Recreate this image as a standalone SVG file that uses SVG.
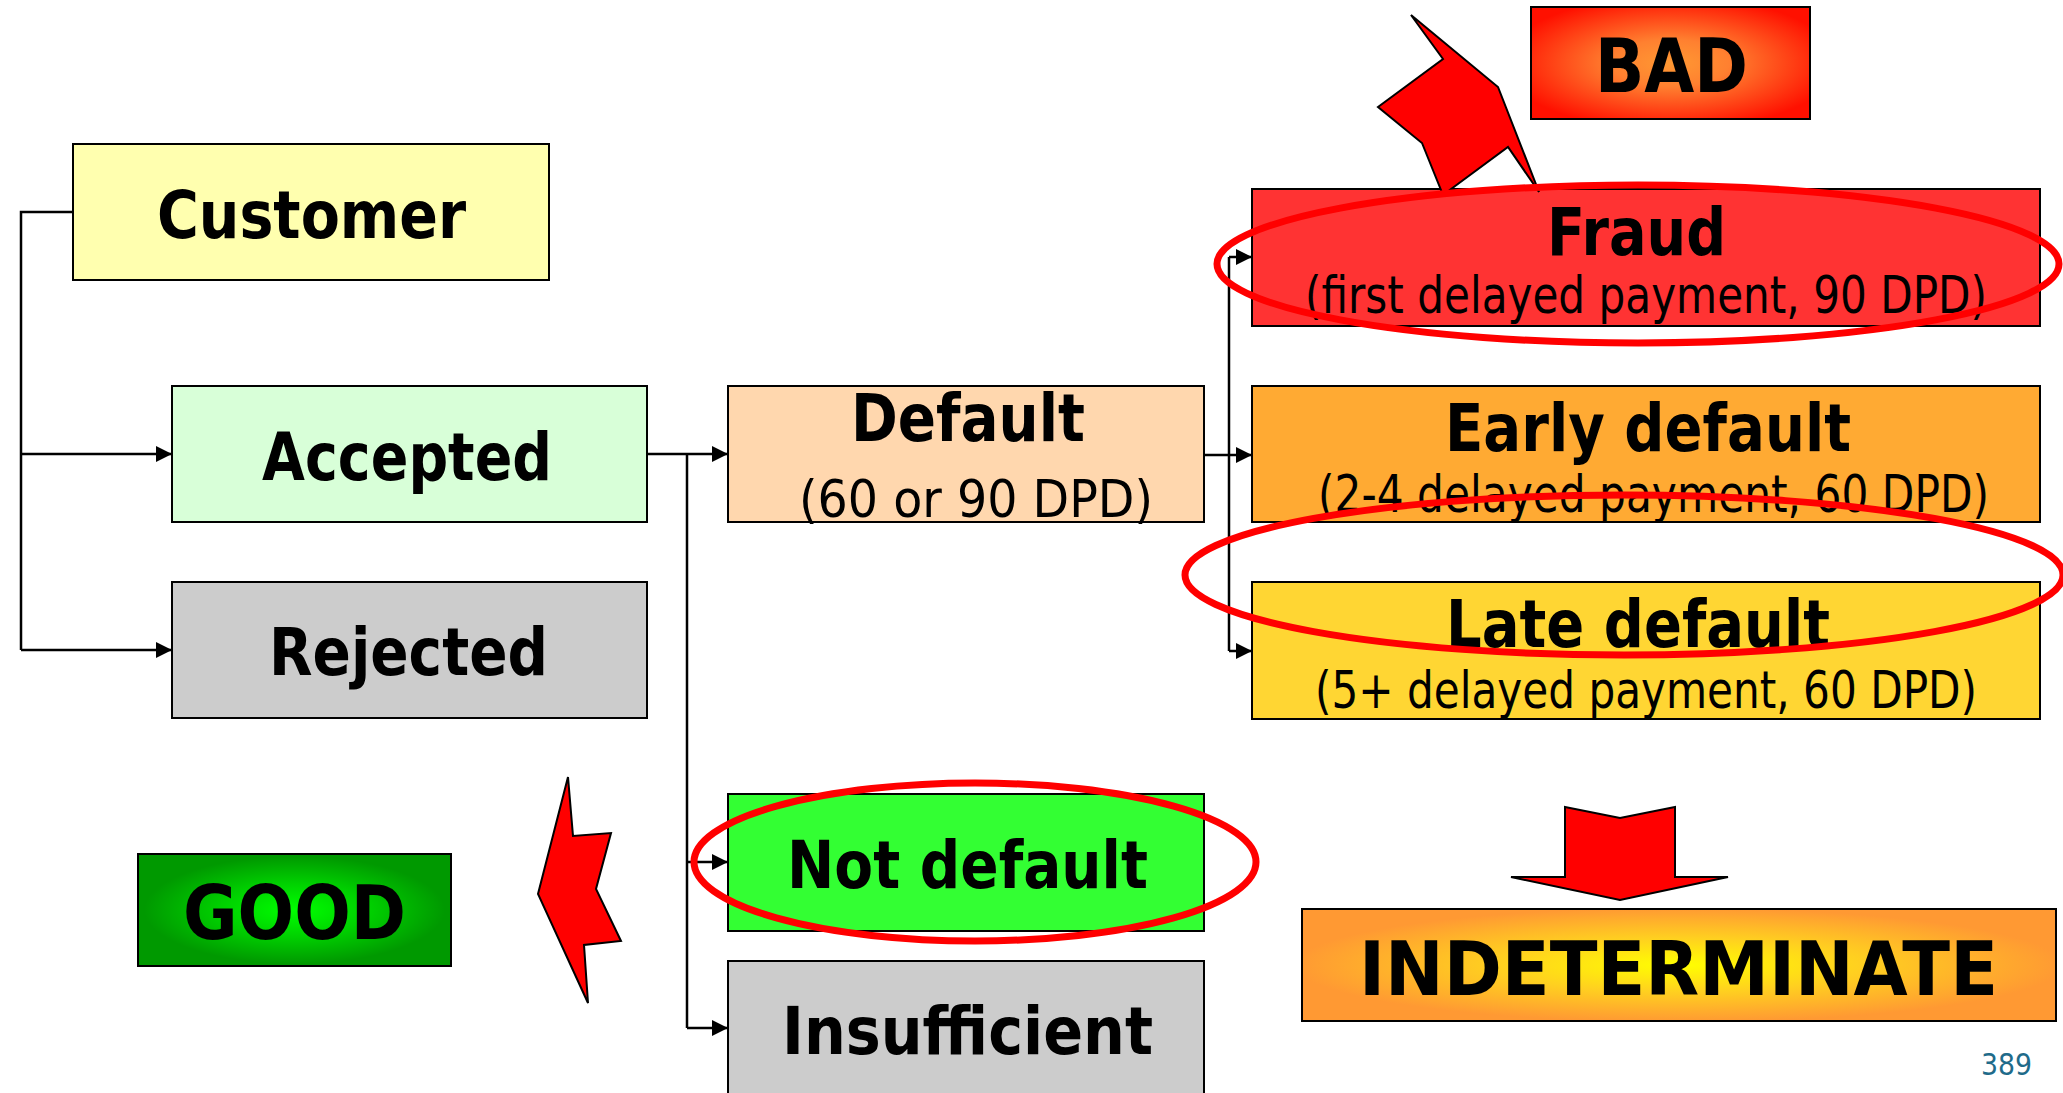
<svg xmlns="http://www.w3.org/2000/svg" width="2063" height="1093" viewBox="0 0 2063 1093">
<style>
.box{stroke:#000;stroke-width:2}
.t{font-family:"DejaVu Sans",Verdana,sans-serif;font-weight:bold;font-size:66px;fill:#000}
.s{font-family:"DejaVu Sans",Verdana,sans-serif;font-size:52px;fill:#000}
.big{font-family:"DejaVu Sans",Verdana,sans-serif;font-weight:bold;font-size:74px;fill:#000}
.conn{fill:none;stroke:#000;stroke-width:2.5}
.ring{fill:none;stroke:#FF0000;stroke-width:7}
.bolt{fill:#FF0000;stroke:#000;stroke-width:2;stroke-linejoin:miter}
</style>
<defs>
<marker id="ah" viewBox="0 0 10 10" refX="10" refY="5" markerWidth="16" markerHeight="16" markerUnits="userSpaceOnUse" orient="auto">
<path d="M0,0 L10,5 L0,10 z" fill="#000"/>
</marker>
<radialGradient id="gBad" cx="0.5" cy="0.5" r="0.6">
<stop offset="0" stop-color="#FF9933"/>
<stop offset="0.35" stop-color="#FF8030"/>
<stop offset="1" stop-color="#FF1000"/>
</radialGradient>
<radialGradient id="gGood" cx="0.5" cy="0.5" r="0.6">
<stop offset="0" stop-color="#00FF00"/>
<stop offset="0.4" stop-color="#00D000"/>
<stop offset="0.8" stop-color="#009900"/>
</radialGradient>
<radialGradient id="gInd" cx="0.5" cy="0.5" r="0.6">
<stop offset="0" stop-color="#FFFF00"/>
<stop offset="0.4" stop-color="#FFD020"/>
<stop offset="0.85" stop-color="#FF9933"/>
</radialGradient>
</defs>

<g id="connectors">
<path class="conn" d="M73,212 H21 V650"/>
<path class="conn" d="M21,454 H172" marker-end="url(#ah)"/>
<path class="conn" d="M21,650 H172" marker-end="url(#ah)"/>
<path class="conn" d="M647,454 H728" marker-end="url(#ah)"/>
<path class="conn" d="M687,454 V1028"/>
<path class="conn" d="M687,862 H728" marker-end="url(#ah)"/>
<path class="conn" d="M687,1028 H728" marker-end="url(#ah)"/>
<path class="conn" d="M1204,455 H1252" marker-end="url(#ah)"/>
<path class="conn" d="M1229,257 V651"/>
<path class="conn" d="M1229,257 H1252" marker-end="url(#ah)"/>
<path class="conn" d="M1229,651 H1252" marker-end="url(#ah)"/>
</g>

<g id="customer">
<rect class="box" x="73" y="144" width="476" height="136" fill="#FFFFAF"/>
<text class="t" x="157" y="238" textLength="309" lengthAdjust="spacingAndGlyphs">Customer</text>
</g>
<g id="accepted">
<rect class="box" x="172" y="386" width="475" height="136" fill="#D8FFD8"/>
<text class="t" x="262" y="480" textLength="290" lengthAdjust="spacingAndGlyphs">Accepted</text>
</g>
<g id="rejected">
<rect class="box" x="172" y="582" width="475" height="136" fill="#CCCCCC"/>
<text class="t" x="269" y="675" textLength="279" lengthAdjust="spacingAndGlyphs">Rejected</text>
</g>
<g id="default">
<rect class="box" x="728" y="386" width="476" height="136" fill="#FFD7AE"/>
<text class="t" x="851" y="441" textLength="234" lengthAdjust="spacingAndGlyphs">Default</text>
<text class="s" x="799" y="517" textLength="354" lengthAdjust="spacingAndGlyphs">(60 or 90 DPD)</text>
</g>
<g id="not-default">
<rect class="box" x="728" y="794" width="476" height="137" fill="#33FF33"/>
<text class="t" x="787" y="888" textLength="361" lengthAdjust="spacingAndGlyphs">Not default</text>
</g>
<g id="insufficient">
<rect class="box" x="728" y="961" width="476" height="140" fill="#CCCCCC"/>
<text class="t" x="782" y="1054" textLength="371" lengthAdjust="spacingAndGlyphs">Insufficient</text>
</g>
<g id="fraud">
<rect class="box" x="1252" y="189" width="788" height="137" fill="#FF3333"/>
<text class="t" x="1547" y="255" textLength="179" lengthAdjust="spacingAndGlyphs">Fraud</text>
<text class="s" x="1305" y="313" textLength="682" lengthAdjust="spacingAndGlyphs">(first delayed payment, 90 DPD)</text>
</g>
<g id="early-default">
<rect class="box" x="1252" y="386" width="788" height="136" fill="#FFAA33"/>
<text class="t" x="1445" y="451" textLength="406" lengthAdjust="spacingAndGlyphs">Early default</text>
<text class="s" x="1318" y="512" textLength="671" lengthAdjust="spacingAndGlyphs">(2-4 delayed payment, 60 DPD)</text>
</g>
<g id="late-default">
<rect class="box" x="1252" y="582" width="788" height="137" fill="#FFD633"/>
<text class="t" x="1446" y="647" textLength="384" lengthAdjust="spacingAndGlyphs">Late default</text>
<text class="s" x="1315" y="708" textLength="662" lengthAdjust="spacingAndGlyphs">(5+ delayed payment, 60 DPD)</text>
</g>

<g id="bad">
<rect class="box" x="1531" y="7" width="279" height="112" fill="url(#gBad)"/>
<text class="big" x="1595" y="92" textLength="153" lengthAdjust="spacingAndGlyphs">BAD</text>
</g>
<g id="good">
<rect class="box" x="138" y="854" width="313" height="112" fill="url(#gGood)"/>
<text class="big" x="183" y="939" textLength="223" lengthAdjust="spacingAndGlyphs">GOOD</text>
</g>
<g id="indeterminate">
<rect class="box" x="1302" y="909" width="754" height="112" fill="url(#gInd)"/>
<text class="big" x="1359" y="995" textLength="639" lengthAdjust="spacingAndGlyphs">INDETERMINATE</text>
</g>

<g id="bad-arrow">
<polygon class="bolt" points="1411,15 1443,59 1378,107 1422,143 1443,195 1508,147 1539,192 1498,87"/>
</g>
<g id="good-arrow">
<polygon class="bolt" points="568,777 573,836 611,833 596,889 621,941 584,945 588,1003 538,894"/>
</g>
<g id="indeterminate-arrow">
<polygon class="bolt" points="1565,807 1620,818 1675,807 1675,877 1728,877 1620,900 1511,877 1565,877"/>
</g>

<g id="highlights">
<ellipse class="ring" cx="1638" cy="264" rx="421" ry="79"/>
<ellipse class="ring" cx="1624" cy="575" rx="439" ry="80"/>
<ellipse class="ring" cx="975" cy="862" rx="281" ry="79"/>
</g>

<text x="1981" y="1075" font-family="DejaVu Sans,Verdana,sans-serif" font-size="31" fill="#1F6B8A" textLength="51" lengthAdjust="spacingAndGlyphs">389</text>
</svg>
